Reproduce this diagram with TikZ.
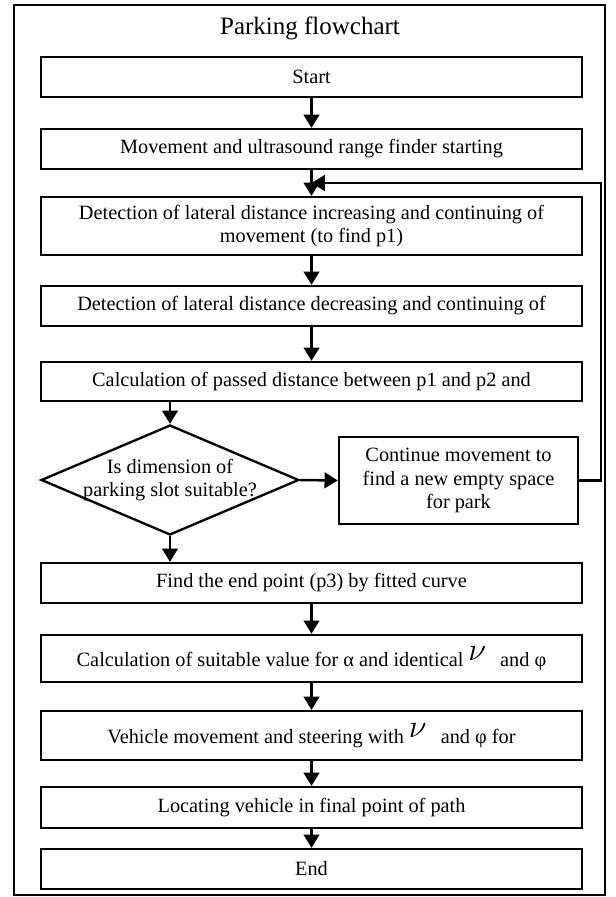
\documentclass[tikz,border=0pt]{standalone}
\usepackage{fontspec}
\setmainfont{Liberation Serif}
\usetikzlibrary{arrows.meta,calc,positioning,shapes.geometric}
\newcommand{\bignu}{\raisebox{4pt}{\fontsize{20}{20}\selectfont$\nu$}\hspace{9pt}}

\begin{document}
\begin{tikzpicture}[x=0.0225cm,y=-0.0225cm,
    every node/.style={font=\fontsize{13}{15}\selectfont},
    stage/.style={draw,line width=1.5pt,minimum width=12.17cm,minimum height=0.9cm,align=center,inner sep=2pt},
    decision/.style={draw,diamond,line width=1.5pt,minimum width=5.8cm,minimum height=2.475cm,inner sep=0pt},
    flow/.style={line width=1.6pt,-{Triangle[length=8.5pt,width=10pt]}}]
		\useasboundingbox (0,0) rectangle (616,897);
		\draw[line width=1.8pt] (14,5) rectangle (605,895);
		\node[font=\fontsize{16}{18}\selectfont] (title) at (310,28) {Parking flowchart};
		\node[stage] (start) at (311.5,77) {Start};
		\node[stage] (move) at (311.5,149) {Movement and ultrasound range finder starting};
		\node[stage,minimum height=1.305cm] (det1) at (311.5,226) {Detection of lateral distance increasing and continuing of\\movement (to find p1)};
		\node[stage] (det2) at (311.5,306) {Detection of lateral distance decreasing and continuing of};
		\node[stage,minimum height=0.88cm] (calc) at (311.5,381.5) {Calculation of passed distance between p1 and p2 and};
		\node[decision,label={[align=center]center:Is dimension of\\parking slot suitable?}] (slot) at (170,480) {};
		\node[stage,minimum width=5.38cm,minimum height=1.96cm] (cont) at (458.5,480.5) {Continue movement to\\find a new empty space\\for park};
		\node[stage] (find) at (311.5,583) {Find the end point (p3) by fitted curve};
		\node[stage,minimum height=1.06cm] (calc2) at (311.5,658.5) {Calculation of suitable value for α and identical \bignu and φ};
		\node[stage,minimum height=1.1cm] (drive) at (311.5,735.5) {Vehicle movement and steering with \bignu and φ for};
		\node[stage,minimum height=0.92cm] (locate) at (311.5,807.5) {Locating vehicle in final point of path};
		\node[stage] (finish) at (311.5,869) {End};
		% straight steps
		\foreach \a/\b in {start/move,move/det1,det1/det2,det2/calc,find/calc2,calc2/drive,drive/locate,locate/finish}
			\draw[flow] (\a) -- (\b);
		\draw[flow] (calc.south -| slot.north) -- (slot.north);
		\draw[flow] (slot.south) -- (slot.south |- find.north);
		\draw[flow] (slot.east) -- (cont.west);
		% loop back
		\coordinate (join) at ($(move.south)!0.5!(det1.north)$);
		\draw[flow] (cont.east) -- ++(22,0) |- (join);
\end{tikzpicture}
\end{document}
